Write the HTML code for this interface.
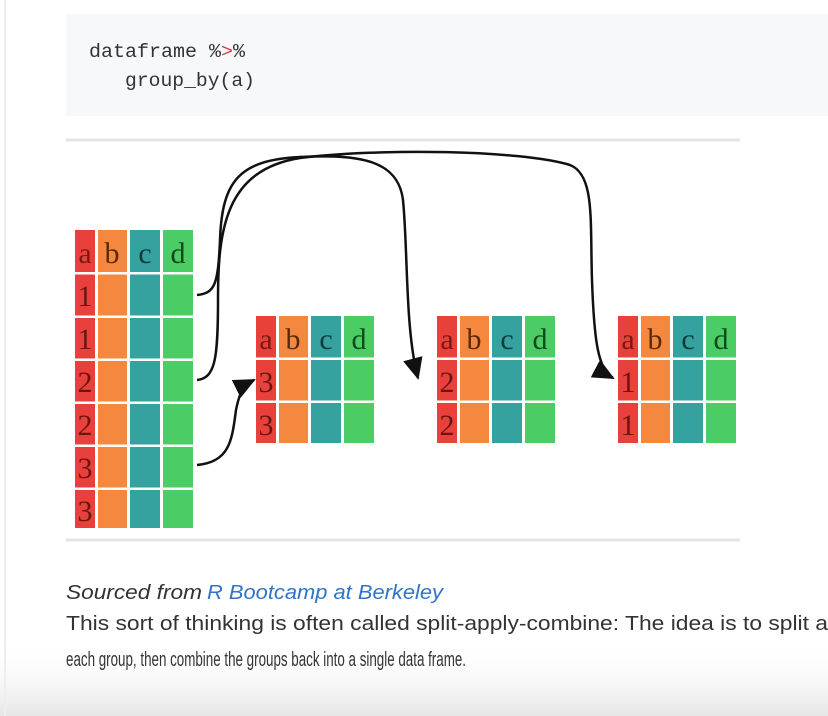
<!DOCTYPE html>
<html><head><meta charset="utf-8"><style>
html,body{margin:0;padding:0;background:#fff;width:828px;height:716px;overflow:hidden}
</style></head><body>
<svg width="828" height="716" viewBox="0 0 828 716" xmlns="http://www.w3.org/2000/svg">
<defs>
<linearGradient id="bg" x1="0" y1="0" x2="0" y2="1">
<stop offset="0" stop-color="#fff" stop-opacity="0"/><stop offset="1" stop-color="#e6e6e6"/>
</linearGradient>
<marker id="ah2" markerWidth="22" markerHeight="20" refX="20" refY="10" orient="auto" markerUnits="userSpaceOnUse" viewBox="0 0 22 20">
<path d="M0,0 L22,10 L0,20 z" fill="#111"/></marker>
</defs>
<rect x="0" y="0" width="828" height="716" fill="#fff"/>
<rect x="0" y="640" width="828" height="76" fill="url(#bg)"/>
<line x1="5" y1="0" x2="5" y2="716" stroke="#eee" stroke-width="2"/>
<rect x="66" y="14" width="762" height="102" fill="#f6f8fa"/>
<text x="89" y="57" font-family="Liberation Mono, monospace" font-size="19.5" fill="#333" textLength="156" lengthAdjust="spacingAndGlyphs">dataframe %<tspan fill="#d73a49">&gt;</tspan>%</text>
<text x="125" y="86" font-family="Liberation Mono, monospace" font-size="19.5" fill="#333" textLength="130" lengthAdjust="spacingAndGlyphs">group_by(a)</text>
<line x1="66" y1="140" x2="740" y2="140" stroke="#e4e4e4" stroke-width="3"/>
<line x1="66" y1="540" x2="740" y2="540" stroke="#e4e4e4" stroke-width="3"/>

<g font-family="Liberation Serif, serif" font-size="30">
<g id="big">
<rect x="75" y="230" width="20" height="298" fill="#e8403a"/>
<rect x="98" y="230" width="29" height="298" fill="#f4883e"/>
<rect x="130" y="230" width="30" height="298" fill="#35a2a0"/>
<rect x="163" y="230" width="30" height="298" fill="#4ccc64"/>
<g fill="#fff">
<rect x="75" y="272" width="118" height="2.5"/><rect x="75" y="315.5" width="118" height="2.5"/>
<rect x="75" y="358.5" width="118" height="2.5"/><rect x="75" y="401.5" width="118" height="2.5"/>
<rect x="75" y="444.5" width="118" height="2.5"/><rect x="75" y="487.5" width="118" height="2.5"/>
</g>
<g fill="#6b1510" text-anchor="middle">
<text x="85" y="263" fill="#7a1a12">a</text><text x="112" y="263" fill="#5a2a08">b</text><text x="145" y="263" fill="#0e3a3a">c</text><text x="178" y="263" fill="#0e4a1a">d</text>
<text x="85" y="306">1</text><text x="85" y="349">1</text><text x="85" y="392">2</text><text x="85" y="435">2</text><text x="85" y="478">3</text><text x="85" y="521">3</text>
</g>
</g>
<g id="t2">
<rect x="256" y="316" width="20" height="127" fill="#e8403a"/>
<rect x="279" y="316" width="29" height="127" fill="#f4883e"/>
<rect x="311" y="316" width="30" height="127" fill="#35a2a0"/>
<rect x="344" y="316" width="30" height="127" fill="#4ccc64"/>
<rect x="256" y="357.5" width="118" height="2.5" fill="#fff"/><rect x="256" y="400.5" width="118" height="2.5" fill="#fff"/>
<g text-anchor="middle" fill="#6b1510">
<text x="266" y="349" fill="#7a1a12">a</text><text x="293" y="349" fill="#5a2a08">b</text><text x="326" y="349" fill="#0e3a3a">c</text><text x="359" y="349" fill="#0e4a1a">d</text>
<text x="266" y="392">3</text><text x="266" y="435">3</text></g>
</g>
<g transform="translate(181,0)">
<rect x="256" y="316" width="20" height="127" fill="#e8403a"/>
<rect x="279" y="316" width="29" height="127" fill="#f4883e"/>
<rect x="311" y="316" width="30" height="127" fill="#35a2a0"/>
<rect x="344" y="316" width="30" height="127" fill="#4ccc64"/>
<rect x="256" y="357.5" width="118" height="2.5" fill="#fff"/><rect x="256" y="400.5" width="118" height="2.5" fill="#fff"/>
<g text-anchor="middle" fill="#6b1510">
<text x="266" y="349" fill="#7a1a12">a</text><text x="293" y="349" fill="#5a2a08">b</text><text x="326" y="349" fill="#0e3a3a">c</text><text x="359" y="349" fill="#0e4a1a">d</text>
<text x="266" y="392">2</text><text x="266" y="435">2</text></g>
</g>
<g transform="translate(362,0)">
<rect x="256" y="316" width="20" height="127" fill="#e8403a"/>
<rect x="279" y="316" width="29" height="127" fill="#f4883e"/>
<rect x="311" y="316" width="30" height="127" fill="#35a2a0"/>
<rect x="344" y="316" width="30" height="127" fill="#4ccc64"/>
<rect x="256" y="357.5" width="118" height="2.5" fill="#fff"/><rect x="256" y="400.5" width="118" height="2.5" fill="#fff"/>
<g text-anchor="middle" fill="#6b1510">
<text x="266" y="349" fill="#7a1a12">a</text><text x="293" y="349" fill="#5a2a08">b</text><text x="326" y="349" fill="#0e3a3a">c</text><text x="359" y="349" fill="#0e4a1a">d</text>
<text x="266" y="392">1</text><text x="266" y="435">1</text></g>
</g>
</g>

<g fill="none" stroke="#111" stroke-width="2.5">
<path d="M197,295 C215,293 218,285 220,240 C222,180 240,160 300,157 C360,154 398,160 403,200 C408,250 405,330 418,378" marker-end="url(#ah2)"/>
<path d="M197,380 C215,378 218,360 218,300 C218,230 225,170 300,158 C380,148 520,150 570,165 C595,175 590,220 592,280 C594,340 598,370 613,378" marker-end="url(#ah2)"/>
<path d="M197,465 C230,462 232,440 236,410 C240,390 244,385 254,380" marker-end="url(#ah2)"/>
</g>

<text x="66" y="599" font-family="Liberation Sans, sans-serif" font-style="italic" font-size="20" fill="#333" textLength="136" lengthAdjust="spacingAndGlyphs">Sourced from</text>
<text x="207" y="599" font-family="Liberation Sans, sans-serif" font-style="italic" font-size="20" fill="#2f74c8" textLength="236" lengthAdjust="spacingAndGlyphs">R Bootcamp at Berkeley</text>
<text x="66" y="630" font-family="Liberation Sans, sans-serif" font-size="20" fill="#333" textLength="762" lengthAdjust="spacingAndGlyphs">This sort of thinking is often called split-apply-combine: The idea is to split a</text>
<text x="66" y="666" font-family="Liberation Sans, sans-serif" font-size="20" fill="#333" textLength="400" lengthAdjust="spacingAndGlyphs">each group, then combine the groups back into a single data frame.</text>
</svg>
</body></html>
